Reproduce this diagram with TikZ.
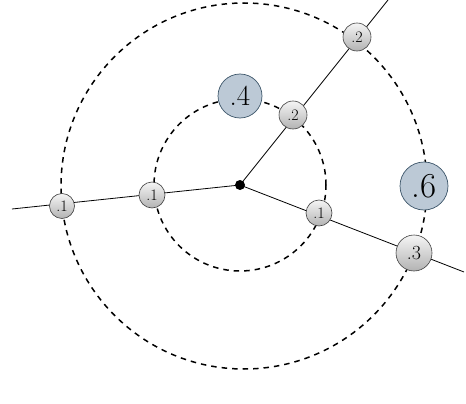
\documentclass[tikz,border=0pt]{standalone}
\begin{document}
\begin{tikzpicture}[x=1pt,y=-1pt,
  ring/.style={dashed, line width=1.5pt, dash pattern=on 5.5pt off 5pt},
  spoke/.style={line width=0.8pt},
  smallball/.style={circle, draw=gray!50!black, line width=0.6pt, top color=gray!8, bottom color=gray!60, inner sep=0pt, font=\fontsize{16}{18}\selectfont},
  bigball/.style={circle, draw={rgb,255:red,60;green,85;blue,105}, line width=0.7pt, fill={rgb,255:red,188;green,201;blue,214}, inner sep=0pt}
]
\useasboundingbox (0,0) rectangle (466,404);
\coordinate (c) at (240,185);
\coordinate (oc) at (244,186);
\coordinate (eL) at (12,209);
\coordinate (eU) at (388,0);
\coordinate (eR) at (464,272);
\draw[ring] (c) circle[radius=86pt];
\draw[ring] (oc) circle[radius=183pt];
\draw[spoke] (c) -- (eL);
\draw[spoke] (c) -- (eU);
\draw[spoke] (c) -- (eR);
\node[circle, fill=black, minimum size=10pt, inner sep=0pt] (dot) at (c) {};
\node[smallball, minimum size=25pt] (a1) at (62,206) {.1};
\node[smallball, minimum size=26pt] (a2) at (152,195) {.1};
\node[smallball, minimum size=28pt] (b1) at (293,115) {.2};
\node[smallball, minimum size=28pt] (b2) at (357,37) {.2};
\node[smallball, minimum size=26pt] (d1) at (319,213) {.1};
\node[smallball, minimum size=36pt, font=\fontsize{20}{22}\selectfont] (d2) at (414,253) {.3};
\node[bigball, minimum size=44pt, font=\fontsize{29}{30}\selectfont] (n4) at (240,96) {.4};
\node[bigball, minimum size=48pt, font=\fontsize{35}{36}\selectfont] (n6) at (424,186) {.6};
\end{tikzpicture}
\end{document}
